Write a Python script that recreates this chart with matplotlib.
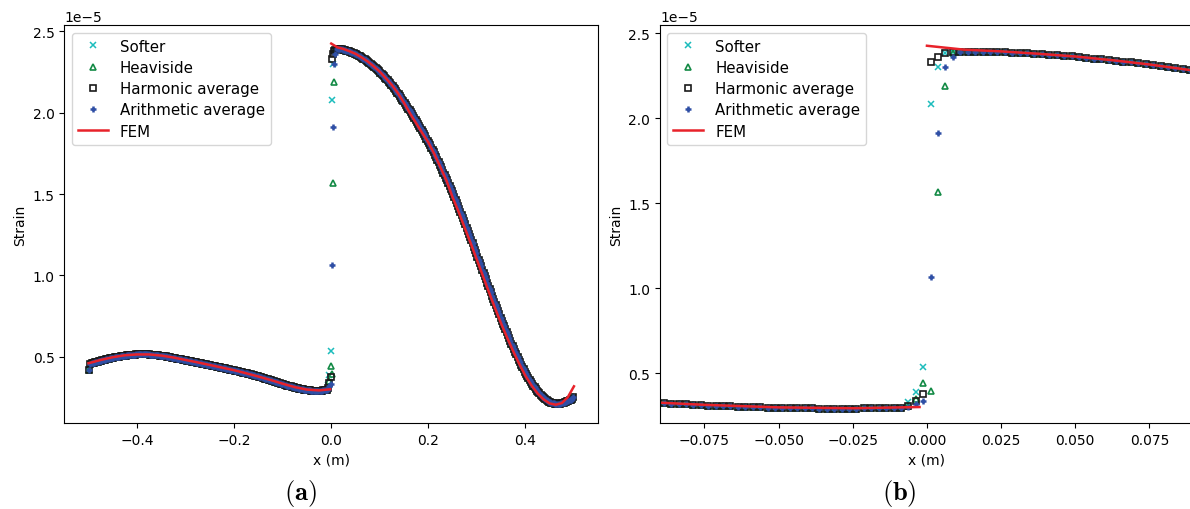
import numpy as np
import matplotlib.pyplot as plt

# -----------------------------------------------------------------------------
# Data (strain in units of 1e-5), cell centres every 0.0025 m on [-0.5, 0.5]
# -----------------------------------------------------------------------------
x_cells = np.linspace(-0.49875, 0.49875, 400)

# common part of the numerical solutions, x < 0
strain_left = [
    0.420, 0.457, 0.460, 0.462, 0.464, 0.466, 0.468, 0.470, 0.472, 0.474,
    0.476, 0.478, 0.480, 0.482, 0.484, 0.486, 0.488, 0.490, 0.491, 0.493,
    0.494, 0.496, 0.497, 0.499, 0.500, 0.501, 0.503, 0.504, 0.505, 0.506,
    0.507, 0.508, 0.509, 0.510, 0.511, 0.511, 0.512, 0.513, 0.513, 0.514,
    0.514, 0.515, 0.515, 0.515, 0.515, 0.515, 0.515, 0.514, 0.514, 0.514,
    0.513, 0.513, 0.512, 0.511, 0.511, 0.510, 0.509, 0.508, 0.507, 0.506,
    0.505, 0.504, 0.503, 0.502, 0.501, 0.499, 0.498, 0.497, 0.495, 0.494,
    0.492, 0.491, 0.489, 0.488, 0.486, 0.485, 0.483, 0.482, 0.480, 0.479,
    0.477, 0.476, 0.474, 0.473, 0.471, 0.470, 0.468, 0.467, 0.465, 0.464,
    0.462, 0.460, 0.459, 0.457, 0.456, 0.454, 0.453, 0.451, 0.450, 0.448,
    0.447, 0.445, 0.444, 0.442, 0.441, 0.439, 0.437, 0.436, 0.434, 0.433,
    0.431, 0.429, 0.428, 0.426, 0.425, 0.423, 0.421, 0.420, 0.418, 0.416,
    0.415, 0.413, 0.411, 0.410, 0.408, 0.406, 0.404, 0.403, 0.401, 0.399,
    0.397, 0.395, 0.393, 0.391, 0.389, 0.387, 0.385, 0.383, 0.381, 0.379,
    0.377, 0.375, 0.373, 0.371, 0.368, 0.366, 0.364, 0.362, 0.359, 0.357,
    0.355, 0.352, 0.350, 0.347, 0.345, 0.342, 0.340, 0.337, 0.335, 0.332,
    0.330, 0.328, 0.325, 0.323, 0.321, 0.319, 0.317, 0.315, 0.313, 0.311,
    0.309, 0.307, 0.306, 0.304, 0.302, 0.301, 0.300, 0.298, 0.297, 0.296,
    0.295, 0.294, 0.293, 0.292, 0.292, 0.291, 0.291, 0.291, 0.291, 0.291,
    0.291, 0.292, 0.292, 0.293, 0.294, 0.295, 0.296, 0.297, 0.299, 0.302,
]

# common part of the numerical solutions, x > 0
strain_right = [
    2.385, 2.388, 2.390, 2.388, 2.390, 2.391, 2.391, 2.390, 2.389, 2.388,
    2.386, 2.384, 2.382, 2.380, 2.377, 2.374, 2.371, 2.368, 2.365, 2.362,
    2.358, 2.354, 2.350, 2.346, 2.342, 2.337, 2.332, 2.327, 2.322, 2.317,
    2.312, 2.306, 2.300, 2.294, 2.288, 2.282, 2.275, 2.268, 2.261, 2.254,
    2.247, 2.240, 2.232, 2.224, 2.216, 2.208, 2.199, 2.190, 2.181, 2.172,
    2.163, 2.153, 2.143, 2.133, 2.123, 2.113, 2.102, 2.091, 2.080, 2.069,
    2.058, 2.047, 2.036, 2.025, 2.014, 2.003, 1.992, 1.980, 1.968, 1.956,
    1.944, 1.932, 1.919, 1.906, 1.893, 1.880, 1.867, 1.854, 1.841, 1.828,
    1.814, 1.800, 1.786, 1.771, 1.756, 1.741, 1.726, 1.711, 1.696, 1.680,
    1.664, 1.648, 1.632, 1.616, 1.600, 1.584, 1.567, 1.550, 1.533, 1.516,
    1.499, 1.481, 1.463, 1.445, 1.427, 1.408, 1.389, 1.370, 1.351, 1.332,
    1.313, 1.294, 1.275, 1.256, 1.236, 1.216, 1.196, 1.176, 1.156, 1.136,
    1.116, 1.096, 1.076, 1.056, 1.036, 1.016, 0.996, 0.976, 0.956, 0.936,
    0.916, 0.896, 0.876, 0.856, 0.836, 0.817, 0.798, 0.779, 0.760, 0.741,
    0.722, 0.704, 0.686, 0.668, 0.650, 0.632, 0.614, 0.597, 0.580, 0.563,
    0.546, 0.530, 0.514, 0.498, 0.482, 0.467, 0.452, 0.437, 0.423, 0.409,
    0.396, 0.383, 0.370, 0.358, 0.346, 0.334, 0.323, 0.312, 0.302, 0.292,
    0.283, 0.274, 0.266, 0.258, 0.251, 0.244, 0.238, 0.233, 0.228, 0.224,
    0.221, 0.218, 0.215, 0.213, 0.212, 0.211, 0.211, 0.211, 0.212, 0.213,
    0.215, 0.217, 0.219, 0.222, 0.225, 0.228, 0.232, 0.236, 0.241, 0.250,
]

# values of each method at the seven cells around the interface
# x = -0.00625, -0.00375, -0.00125, 0.00125, 0.00375, 0.00625, 0.00875
jump_softer = [0.328, 0.390, 0.533, 2.080, 2.300, 2.385, 2.388]
jump_heaviside = [0.305, 0.350, 0.440, 0.396, 1.565, 2.190, 2.385]
jump_harmonic = [0.305, 0.337, 0.376, 2.330, 2.360, 2.380, 2.388]
jump_arithmetic = [0.300, 0.320, 0.334, 1.065, 1.910, 2.300, 2.360]

# FEM reference solution
fem_x_left = [-0.5, -0.475, -0.45, -0.425, -0.4, -0.375, -0.35, -0.325, -0.3,
              -0.275, -0.25, -0.225, -0.2, -0.175, -0.15, -0.125, -0.1, -0.075,
              -0.05, -0.025, -0.0025]
fem_left = [0.460, 0.480, 0.497, 0.509, 0.514, 0.514, 0.507, 0.495, 0.480,
            0.465, 0.449, 0.433, 0.417, 0.398, 0.378, 0.357, 0.334, 0.313,
            0.298, 0.293, 0.300]
fem_x_right = [0.0, 0.0125, 0.025, 0.0375, 0.05, 0.0625, 0.075, 0.0875, 0.1,
               0.1125, 0.125, 0.1375, 0.15, 0.1625, 0.175, 0.1875, 0.2, 0.2125,
               0.225, 0.2375, 0.25, 0.2625, 0.275, 0.2875, 0.3, 0.3125, 0.325,
               0.3375, 0.35, 0.3625, 0.375, 0.3875, 0.4, 0.4125, 0.425, 0.4375,
               0.45, 0.4625, 0.475, 0.4875, 0.5]
fem_right = [2.425, 2.402, 2.392, 2.378, 2.362, 2.340, 2.315, 2.285, 2.252,
             2.212, 2.170, 2.120, 2.060, 1.995, 1.935, 1.875, 1.818, 1.745,
             1.665, 1.582, 1.480, 1.390, 1.292, 1.196, 1.096, 0.996, 0.896,
             0.798, 0.704, 0.616, 0.533, 0.455, 0.383, 0.324, 0.275, 0.238,
             0.213, 0.205, 0.215, 0.252, 0.318]

SCALE = 1e-5


def method_strain(jump):
    s = np.array(strain_left + strain_right)
    s[197:204] = jump
    return s * SCALE


series = [
    ('Softer', jump_softer, dict(marker='x', color='#1cbcbc', ms=4.2, mew=1.1)),
    ('Heaviside', jump_heaviside, dict(marker='^', color='#138a45', mfc='none', ms=4.8, mew=1.2)),
    ('Harmonic average', jump_harmonic, dict(marker='s', color='#1a1a1a', mfc='none', ms=4.8, mew=1.2)),
    ('Arithmetic average', jump_arithmetic, dict(marker='+', color='#2f4fa5', ms=4.6, mew=1.8)),
]

fem_x = np.array(fem_x_left + [np.nan] + fem_x_right)
fem_y = np.array(fem_left + [np.nan] + fem_right) * SCALE

# =============================================================================
# FIGURE
# =============================================================================
plt.rcParams['mathtext.fontset'] = 'cm'
fig = plt.figure(figsize=(11.9, 5.1), dpi=100)
ax1 = fig.add_axes([0.054, 0.1686, 0.4487, 0.7804])
ax2 = fig.add_axes([0.5546, 0.1686, 0.4487, 0.7804])

for ax in (ax1, ax2):
    for name, jump, style in series:
        ax.plot(x_cells, method_strain(jump), linestyle='none', label=name, **style)
    ax.plot(fem_x, fem_y, color='#e8222a', lw=1.8, label='FEM')
    ax.set_xlabel('x (m)', fontsize=10)
    ax.set_ylabel('Strain', fontsize=10)
    ax.tick_params(labelsize=10)
    ax.legend(loc='upper left', fontsize=10.8, labelspacing=0.42)

ax1.set_xlim(-0.55, 0.55)
ax1.set_ylim(0.0925e-5, 2.539e-5)
ax2.set_xlim(-0.09, 0.09)
ax2.set_ylim(0.206e-5, 2.547e-5)
ax2.set_xticks([-0.075, -0.05, -0.025, 0.0, 0.025, 0.05, 0.075])

fig.text(0.252, 0.033, r'$\mathbf{(a)}$', fontsize=19, ha='center', va='center')
fig.text(0.756, 0.033, r'$\mathbf{(b)}$', fontsize=19, ha='center', va='center')

plt.savefig('out.png', dpi=100)
